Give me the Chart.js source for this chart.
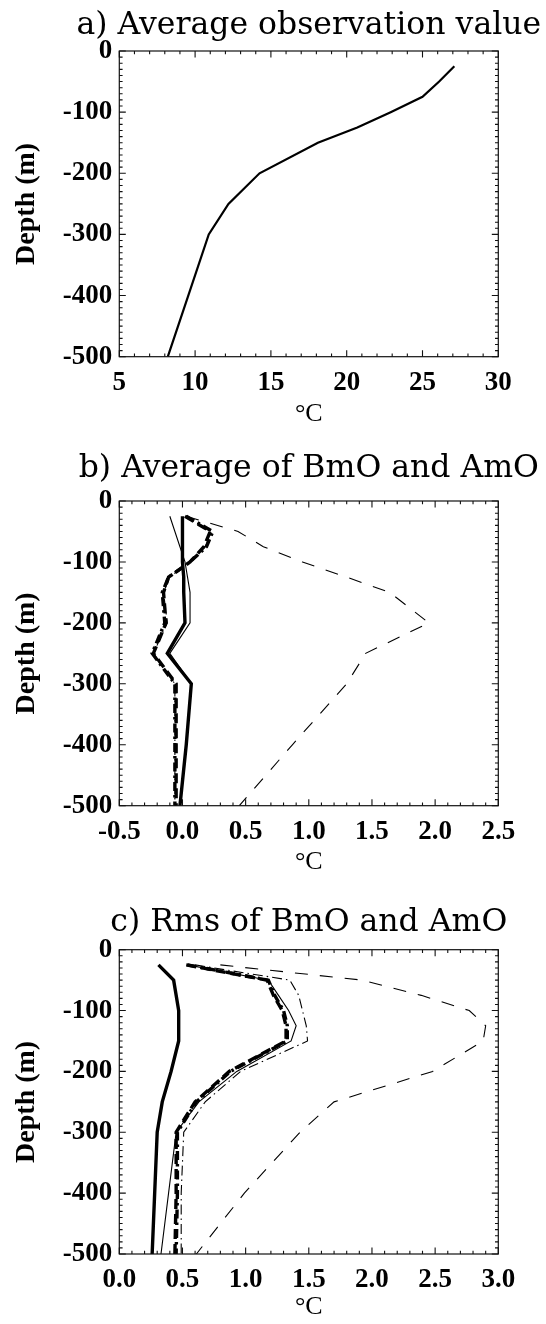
<!DOCTYPE html>
<html><head><meta charset="utf-8">
<script src="https://cdn.jsdelivr.net/npm/chart.js@4.4.1/dist/chart.umd.min.js"></script>
<style>
html,body{margin:0;padding:0;background:#fff;}
body{width:546px;height:1324px;position:relative;overflow:hidden;}
canvas{position:absolute;left:0;}
</style></head><body>
<canvas id="ca"></canvas>
<canvas id="cb"></canvas>
<canvas id="cc"></canvas>
<script>
// ---------- data ----------
const depths = [-25, -50, -75, -100, -125, -150, -200, -250, -300, -400, -500];
const yTicks = [0, -100, -200, -300, -400, -500];

// a) Average observation value (degC)
const obsTemp = [27.1, 26.1, 25.0, 22.9, 20.7, 18.1, 14.25, 12.2, 10.9, 9.55, 8.2];
const xTicksA = [5, 10, 15, 20, 25, 30];

// b) Average of BmO and AmO
const bThickSolid   = [0.0, 0.0, 0.0, 0.0, 0.01, 0.01, 0.02, -0.12, 0.07, 0.03, -0.02];
const bThinSolid    = [-0.1, -0.06, -0.02, 0.02, 0.04, 0.06, 0.06, -0.1, 0.07, 0.03, -0.02];
const bThickDash    = [0.02, 0.22, 0.17, 0.06, -0.11, -0.15, -0.13, -0.23, -0.05, -0.05, -0.05];
const bThickDashDot = [0.03, 0.24, 0.19, 0.06, -0.11, -0.16, -0.14, -0.24, -0.06, -0.06, -0.06];
const bThinDashDot  = [0.02, 0.23, 0.18, 0.05, -0.10, -0.15, -0.12, -0.23, -0.06, -0.06, -0.06];
const bThinDash     = [0.03, 0.44, 0.64, 0.95, 1.30, 1.64, 1.95, 1.45, 1.3, 0.87, 0.45];
const xTicksB = [-0.5, 0.0, 0.5, 1.0, 1.5, 2.0, 2.5];

// c) Rms of BmO and AmO
const cThickSolid   = [0.31, 0.43, 0.45, 0.47, 0.47, 0.47, 0.41, 0.34, 0.30, 0.28, 0.26];
const cThinSolid    = [0.54, 1.18, 1.26, 1.34, 1.40, 1.36, 0.93, 0.63, 0.45, 0.39, 0.33];
const cThickDash    = [0.53, 1.17, 1.22, 1.29, 1.32, 1.32, 0.87, 0.60, 0.45, 0.45, 0.44];
const cThickDashDot = [0.54, 1.18, 1.23, 1.30, 1.33, 1.33, 0.88, 0.61, 0.46, 0.46, 0.45];
const cThinDashDot  = [0.60, 1.35, 1.42, 1.45, 1.48, 1.49, 0.96, 0.68, 0.51, 0.49, 0.49];
const cThinDash     = [0.80, 1.92, 2.39, 2.77, 2.90, 2.88, 2.48, 1.70, 1.43, 0.99, 0.61];
const xTicksC = [0.0, 0.5, 1.0, 1.5, 2.0, 2.5, 3.0];

// ---------- styles ----------
const STY = {
  thickSolid:   {borderWidth: 3.4, borderDash: []},
  thinSolid:    {borderWidth: 1.1, borderDash: []},
  thickDash:    {borderWidth: 3.4, borderDash: [10, 5]},
  thickDashDot: {borderWidth: 3.4, borderDash: [9, 4, 2.5, 4]},
  thinDashDot:  {borderWidth: 1.1, borderDash: [10, 4, 1.5, 4]},
  thinDash:     {borderWidth: 1.1, borderDash: [13, 12]}
};

function ds(vals, style) {
  const s = STY[style];
  return {
    data: vals.map((v, i) => ({x: v, y: depths[i]})),
    showLine: true, fill: false, tension: 0,
    pointRadius: 0, pointHoverRadius: 0,
    borderColor: '#000', backgroundColor: '#000',
    borderWidth: s.borderWidth, borderDash: s.borderDash,
    borderCapStyle: 'butt', borderJoinStyle: 'miter'
  };
}

const boxTicks = {
  id: 'boxTicks',
  afterDatasetsDraw(chart, args, opts) {
    const {ctx, chartArea: a, scales} = chart;
    const xs = scales.x, ys = scales.y;
    ctx.save();
    ctx.strokeStyle = '#111';
    ctx.lineWidth = 1.2;
    ctx.setLineDash([]);
    ctx.strokeRect(a.left, a.top, a.right - a.left, a.bottom - a.top);
    ctx.lineWidth = 1.1;
    const minX = opts.xStep / 5;
    const nx = Math.round((xs.max - xs.min) / minX);
    for (let i = 0; i <= nx; i++) {
      const v = xs.min + i * minX;
      const px = xs.getPixelForValue(v);
      const len = (i % 5 === 0) ? 6.5 : 3.3;
      ctx.beginPath();
      ctx.moveTo(px, a.bottom); ctx.lineTo(px, a.bottom - len);
      ctx.moveTo(px, a.top); ctx.lineTo(px, a.top + len);
      ctx.stroke();
    }
    const ny = Math.round((ys.max - ys.min) / 10);
    for (let i = 0; i <= ny; i++) {
      const v = ys.max - i * 10;
      const py = ys.getPixelForValue(v);
      const len = (i % 10 === 0) ? 6.5 : 3.3;
      ctx.beginPath();
      ctx.moveTo(a.left, py); ctx.lineTo(a.left + len, py);
      ctx.moveTo(a.right, py); ctx.lineTo(a.right - len, py);
      ctx.stroke();
    }
    ctx.restore();
  }
};

const TITLE_FONT = {family: 'DejaVu Serif', size: 31.5, weight: 'normal', lineHeight: 1.2};
const TICK_FONT = {family: 'Liberation Serif', size: 27, weight: 'bold', lineHeight: 1.2};
const AXT_FONT = {family: 'Liberation Serif', size: 28, weight: 'bold', lineHeight: 1.2};
const XT_FONT = {family: 'Liberation Serif', size: 26, weight: 'normal', lineHeight: 1.2};

// layout (page coordinates)
const PLOT_L = 119.3, PLOT_R = 498.3, PAD_L = 40;
const TITLE_CX = (PLOT_L + PLOT_R) / 2;           // titles centred on plot
const PAD_R = 546 - (2 * TITLE_CX - PAD_L);       // negative: widens the title box

function makePanel(id, P) {
  const cv = document.getElementById(id);
  cv.width = 546; cv.height = P.canvasH;
  cv.style.top = P.canvasTop + 'px';
  cv.style.width = '546px'; cv.style.height = P.canvasH + 'px';
  const areaTop = P.areaTop - P.canvasTop;
  const areaBot = P.areaBot - P.canvasTop;
  const tLH = TITLE_FONT.size * 1.2;
  const tCenter = (P.titleBase - P.canvasTop) - 0.346 * TITLE_FONT.size;
  const tPadTop = tCenter - tLH / 2;
  const tPadBot = areaTop - tPadTop - tLH;
  const xAxisH = P.canvasH - areaBot;
  const xtLH = XT_FONT.size * 1.2;
  const xtMid = (P.xTitleBase - P.canvasTop) - 0.3375 * XT_FONT.size;
  const xtPadBot = P.canvasH - xtMid - xtLH / 2;
  const ytLH = AXT_FONT.size * 1.2;
  const ytPadTop = 26.5 - PAD_L - ytLH / 2;

  return new Chart(cv, {
    type: 'scatter',
    data: {datasets: P.datasets},
    plugins: [boxTicks],
    options: {
      responsive: false, animation: false, devicePixelRatio: 1,
      layout: {padding: {left: PAD_L, right: PAD_R, top: 0, bottom: 0}},
      plugins: {
        legend: {display: false}, tooltip: {enabled: false},
        title: {display: true, text: P.title, font: TITLE_FONT, color: '#000',
                align: 'center', fullSize: true,
                padding: {top: tPadTop, bottom: tPadBot}},
        boxTicks: {xStep: P.xStep}
      },
      scales: {
        x: {
          type: 'linear', position: 'bottom', min: P.xMin, max: P.xMax,
          afterBuildTicks: s => { s.ticks = P.xTicks.map(v => ({value: v})); },
          ticks: {font: TICK_FONT, color: '#000', padding: 10, maxRotation: 0, autoSkip: false,
                  callback: v => P.xFmt(v)},
          grid: {display: false, drawTicks: false}, border: {display: false},
          title: {display: true, text: '°C', font: XT_FONT, color: '#000',
                  padding: {top: 0, bottom: xtPadBot}},
          afterFit: s => { s.height = xAxisH; }
        },
        y: {
          type: 'linear', position: 'left', min: -500, max: 0,
          afterBuildTicks: s => { s.ticks = yTicks.map(v => ({value: v})); },
          ticks: {font: TICK_FONT, color: '#000', padding: 7, autoSkip: false,
                  callback: v => String(v)},
          grid: {display: false, drawTicks: false}, border: {display: false},
          title: {display: true, text: 'Depth (m)', font: AXT_FONT, color: '#000',
                  padding: {top: ytPadTop, bottom: 0}},
          afterFit: s => { s.width = PLOT_L - PAD_L; }
        },
        y2: {
          type: 'linear', position: 'right', min: -500, max: 0, display: true,
          ticks: {display: false}, grid: {display: false, drawTicks: false},
          border: {display: false},
          afterFit: s => { s.width = 546 - PAD_R - PLOT_R; }
        }
      }
    }
  });
}

const fmtInt = v => String(v);
const fmt1 = v => (Math.abs(v) < 1e-9 ? 0 : v).toFixed(1);

makePanel('ca', {
  canvasTop: 0, canvasH: 440, areaTop: 51, areaBot: 356.7, titleBase: 36.7, xTitleBase: 423,
  title: 'a) Average observation value', xMin: 5, xMax: 30, xStep: 5, xTicks: xTicksA, xFmt: fmtInt,
  datasets: [ds(obsTemp, 'thinSolid')].map(d => Object.assign(d, {borderWidth: 2.2}))
});

makePanel('cb', {
  canvasTop: 440, canvasH: 444, areaTop: 501, areaBot: 805.7, titleBase: 479.3, xTitleBase: 871,
  title: 'b) Average of BmO and AmO', xMin: -0.5, xMax: 2.5, xStep: 0.5, xTicks: xTicksB, xFmt: fmt1,
  datasets: [
    ds(bThinDash, 'thinDash'), ds(bThinDashDot, 'thinDashDot'), ds(bThinSolid, 'thinSolid'),
    ds(bThickDash, 'thickDash'), ds(bThickDashDot, 'thickDashDot'), ds(bThickSolid, 'thickSolid')
  ]
});

makePanel('cc', {
  canvasTop: 884, canvasH: 440, areaTop: 949.7, areaBot: 1254, titleBase: 934, xTitleBase: 1316,
  title: 'c) Rms of BmO and AmO', xMin: 0, xMax: 3, xStep: 0.5, xTicks: xTicksC, xFmt: fmt1,
  datasets: [
    ds(cThinDash, 'thinDash'), ds(cThinDashDot, 'thinDashDot'), ds(cThinSolid, 'thinSolid'),
    ds(cThickDash, 'thickDash'), ds(cThickDashDot, 'thickDashDot'), ds(cThickSolid, 'thickSolid')
  ]
});
</script>
</body></html>
